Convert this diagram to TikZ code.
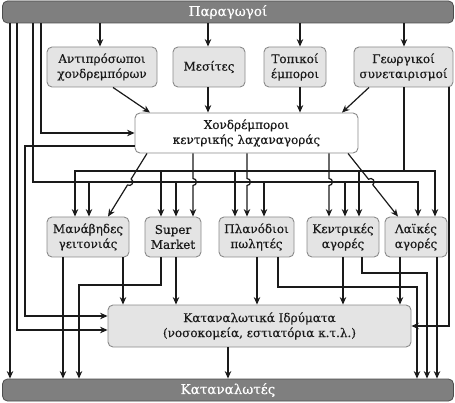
\documentclass[tikz,border=0pt]{standalone}
\usepackage{fontspec}
\setmainfont{DejaVu Serif}
\newfontfamily\heavyserif{DejaVu Serif}[FakeBold=0.35]
\usetikzlibrary{arrows.meta}
\definecolor{bargray}{HTML}{7F7F7F}
\definecolor{barborder}{HTML}{4D4D4D}
\definecolor{boxfill}{HTML}{E4E4E4}
\definecolor{boxborder}{HTML}{8A8A8A}
\definecolor{ink}{HTML}{1A1A1A}
\begin{document}
\begin{tikzpicture}[x=1pt,y=-1pt,
  font=\heavyserif\fontsize{12}{15}\selectfont,
  >={Stealth[length=7.5pt,width=6.5pt]},
  bar/.style={draw=barborder, fill=bargray, rounded corners=5pt, text=white,
    minimum width=451pt, minimum height=22pt, inner sep=0pt, line width=0.8pt,
    font=\heavyserif\fontsize{13.5}{15}\selectfont},
  box/.style={draw=boxborder, fill=boxfill, rounded corners=5pt, align=center,
    minimum height=40pt, inner sep=0pt, line width=0.9pt, text=ink},
  conn/.style={->, line width=1.2pt, draw=ink},
  ]
\useasboundingbox (0,0) rectangle (455,403);

% nodes
\node[bar] (prod) at (228,12) {Παραγωγοί};
\node[bar] (cons) at (228,390) {Καταναλωτές};
\node[box, minimum width=110pt] (ant) at (102,67) {Αντιπρόσωποι\\χονδρεμπόρων};
\node[box, minimum width=72pt] (mes) at (209,67) {Μεσίτες};
\node[box, minimum width=62pt] (tpk) at (295,67) {Τοπικοί\\έμποροι};
\node[box, minimum width=99pt] (geo) at (403.5,67) {Γεωργικοί\\συνεταιρισμοί};
\node[box, fill=white, minimum width=223pt] (who) at (246.5,133) {Χονδρέμποροι\\κεντρικής λαχαναγοράς};
\node[box, minimum width=82pt] (man) at (88,237) {Μανάβηδες\\γειτονιάς};
\node[box, minimum width=56pt] (sm) at (173,237) {Super\\Market};
\node[box, minimum width=75pt] (pla) at (256.5,237) {Πλανόδιοι\\πωλητές};
\node[box, minimum width=72pt] (ken) at (343,237) {Κεντρικές\\αγορές};
\node[box, minimum width=62pt] (lai) at (416,237) {Λαϊκές\\αγορές};
\node[box, minimum width=303pt, minimum height=42pt] (idr) at (259.5,326) {Καταναλωτικά Ιδρύματα\\(νοσοκομεία, εστιατόρια κ.τ.λ.)};

% producers -> intermediaries
\draw[conn] (prod.south -| 100,0) -- (ant.north -| 100,0);
\draw[conn] (prod.south -| 208,0) -- (mes.north -| 208,0);
\draw[conn] (prod.south -| 300,0) -- (tpk.north -| 300,0);
\draw[conn] (prod.south -| 404,0) -- (geo.north -| 404,0);
% intermediaries -> wholesalers
\draw[conn] (ant.south -| 113,0) -- (who.north -| 150,0);
\draw[conn] (mes.south -| 208,0) -- (who.north -| 208,0);
\draw[conn] (tpk.south -| 300,0) -- (who.north -| 300,0);
\draw[conn] (geo.south -| 369,0) -- (who.north -| 342,0);
% left side verticals
\draw[conn] (prod.south -| 41,0) |- (who.west);
\draw[conn] (prod.south -| 10,0) -- (cons.north -| 10,0);
\draw[conn] (prod.south -| 17,0) |- (idr.west |- 0,330);
\draw[conn] (who.west |- 0,146) -- (25,146) -- (25,316) -- (idr.west |- 0,316);

% line A (from cooperatives)
\draw[conn] (geo.south -| 404,0) |- (435,171) -- (lai.north -| 435,0);
\draw[conn] (404,171) -| (man.north -| 75,0);
\draw[conn] (161,171) -- (sm.north -| 161,0);
\draw[conn] (235,171) -- (pla.north -| 235,0);
\draw[conn] (359,171) -- (ken.north -| 359,0);

% line B (from producers)
\draw[conn] (prod.south -| 33,0) -- (33,182) -| (lai.north -| 418,0);
\draw[conn] (89,182) -- (man.north -| 89,0);
\draw[conn] (176,182) -- (sm.north -| 176,0);
\draw[conn] (264,182) -- (pla.north -| 264,0);
\draw[conn] (345,182) -- (ken.north -| 345,0);

% wholesalers -> retail (with hops over line B)
\draw[conn] (who.south -| 147,0) -- (131.15,179.01) arc[start angle=-58.6, end angle=121.4, radius=3.5] -- (man.north -| 108,0);
\draw[conn] (who.south -| 193,0) -- (193,178.5) arc[start angle=-90, end angle=90, radius=3.5] -- (sm.north -| 193,0);
\draw[conn] (who.south -| 247,0) -- (247,178.5) arc[start angle=-90, end angle=90, radius=3.5] -- (pla.north -| 247,0);
\draw[conn] (who.south -| 329,0) -- (329,178.5) arc[start angle=-90, end angle=90, radius=3.5] -- (ken.north -| 329,0);
\draw[conn] (who.south -| 348,0) -- (368.51,179.24) arc[start angle=-128, end angle=52, radius=3.5] -- (lai.north -| 398,0);

% retail outputs
\draw[conn] (man.south -| 63,0) -- (cons.north -| 63,0);
\draw[conn] (man.south -| 123,0) -- (idr.north -| 123,0);
\draw[conn] (sm.south -| 161,0) |- (79,285) -- (cons.north -| 79,0);
\draw[conn] (sm.south -| 176,0) -- (idr.north -| 176,0);
\draw[conn] (pla.south -| 257,0) -- (idr.north -| 257,0);
\draw[conn] (pla.south -| 278,0) |- (417,287) -- (cons.north -| 417,0);
\draw[conn] (ken.south -| 343,0) -- (idr.north -| 343,0);
\draw[conn] (ken.south -| 362,0) |- (427,273) -- (cons.north -| 427,0);
\draw[conn] (lai.south -| 400,0) -- (idr.north -| 400,0);
\draw[conn] (lai.south -| 437,0) -- (cons.north -| 437,0);
\draw[conn] (geo.south -| 449,0) |- (idr.east);
\draw[conn] (idr.south -| 228,0) -- (cons.north -| 228,0);
\end{tikzpicture}
\end{document}
